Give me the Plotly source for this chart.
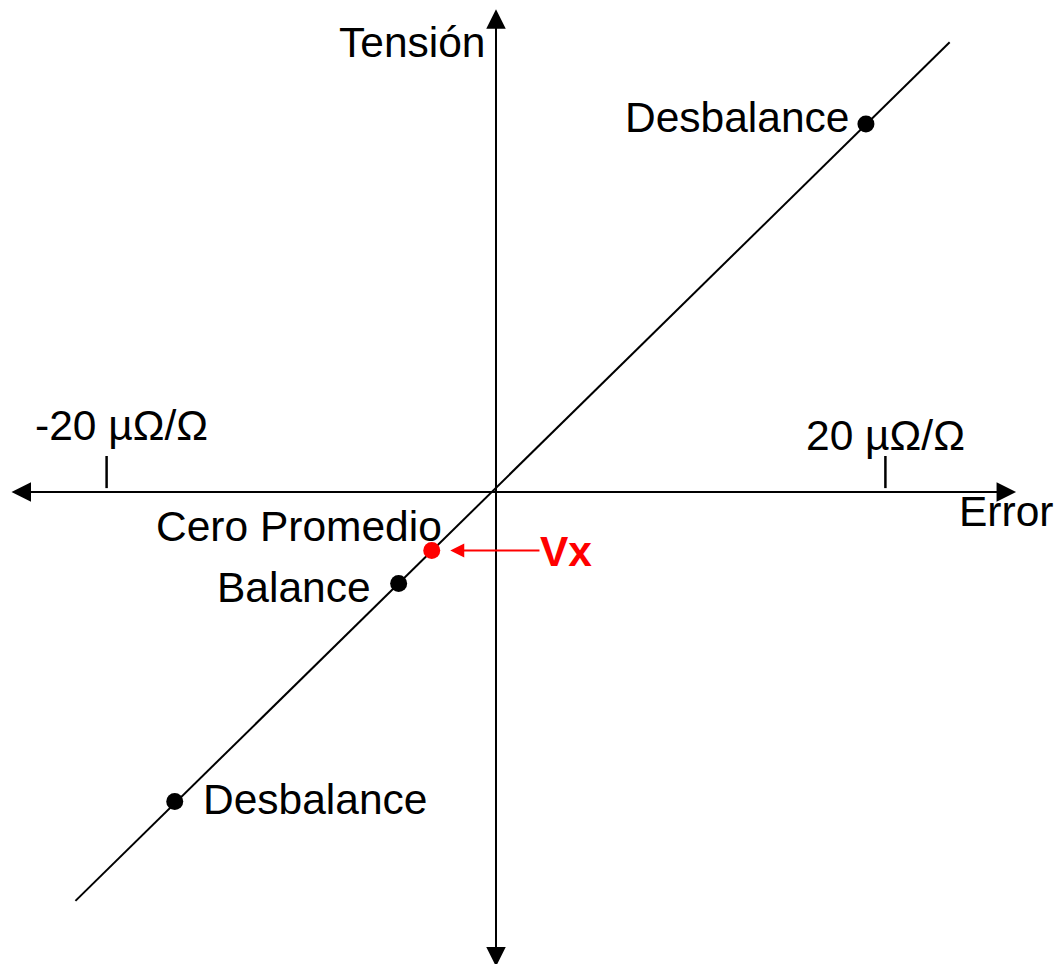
import plotly.graph_objects as go

# Operating points on the error/voltage characteristic
point_names = ["Desbalance", "Cero Promedio", "Balance", "Desbalance"]
point_error = [19.0, -3.3, -5.0, -16.5]      # µΩ/Ω
point_tension = [18.9, -3.0, -4.7, -15.9]    # arbitrary units
point_colors = ["black", "red", "black", "black"]

# Characteristic line end points
line_error = [-21.6, 23.3]
line_tension = [-21.0, 23.1]

# Error axis ticks
tick_values = [-20, 20]
tick_labels = ["-20 µΩ/Ω", "20 µΩ/Ω"]

# Axis extents (arrow tips)
x_axis_ends = [-24.96, 26.71]
y_axis_ends = [-24.45, 24.80]

S = 19.47  # pixels per unit
W, H = 1059, 964
OX, OY = 496, 492
x_range = [-OX / S, (W - OX) / S]
y_range = [-(H - OY) / S, OY / S]

FONT = "Liberation Sans, Arial, sans-serif"
FS = 42.5

fig = go.Figure()

fig.add_trace(go.Scatter(
    x=line_error, y=line_tension, mode="lines",
    line=dict(color="black", width=2), hoverinfo="skip", showlegend=False))

fig.add_trace(go.Scatter(
    x=point_error, y=point_tension, mode="markers",
    marker=dict(color=point_colors, size=[17, 17, 17, 17], opacity=1, line=dict(width=0)),
    opacity=1, showlegend=False))

annotations = []

# Axes drawn as double-headed arrows
annotations.append(dict(
    x=x_axis_ends[1], y=0, ax=x_axis_ends[0], ay=0,
    xref="x", yref="y", axref="x", ayref="y", text="",
    showarrow=True, arrowhead=2, startarrowhead=2, arrowside="end+start",
    arrowsize=1.95, startarrowsize=1.95, arrowwidth=2, arrowcolor="black"))
annotations.append(dict(
    x=0, y=y_axis_ends[1], ax=0, ay=y_axis_ends[0],
    xref="x", yref="y", axref="x", ayref="y", text="",
    showarrow=True, arrowhead=2, startarrowhead=2, arrowside="end+start",
    arrowsize=1.95, startarrowsize=1.95, arrowwidth=2, arrowcolor="black"))

# Vx arrow pointing to the average zero
annotations.append(dict(
    x=point_error[1] + 0.95, y=point_tension[1], ax=2.31, ay=point_tension[1],
    xref="x", yref="y", axref="x", ayref="y", text="",
    showarrow=True, arrowhead=2, arrowsize=1.4, arrowwidth=2, arrowcolor="red"))

shapes = []
for tv in tick_values:
    shapes.append(dict(type="line", xref="x", yref="y", x0=tv, x1=tv, y0=0.2, y1=1.85,
                       line=dict(color="black", width=2.5)))

def label(text, x, y, color="black", bold=False):
    annotations.append(dict(
        x=x, y=y, xref="x", yref="y", text=f"<b>{text}</b>" if bold else text,
        showarrow=False, xanchor="center", yanchor="middle",
        font=dict(family=FONT, size=FS, color=color)))

label("Tensión", -4.31, 23.11)
label("Error", 26.19, -0.98)
label(tick_labels[0], -19.23, 3.44)
label(tick_labels[1], 20.03, 2.88)
label(point_names[0], 12.38, 19.21)
label(point_names[1], -10.12, -1.75)
label(point_names[2], -10.37, -4.88)
label(point_names[3], -9.32, -15.77)
label("Vx", 3.62, -3.08, color="red", bold=True)

fig.update_layout(
    width=W, height=H,
    margin=dict(l=0, r=0, t=0, b=0),
    paper_bgcolor="white", plot_bgcolor="white",
    xaxis=dict(range=x_range, visible=False, fixedrange=True),
    yaxis=dict(range=y_range, visible=False, fixedrange=True),
    annotations=annotations, shapes=shapes,
    showlegend=False,
)

fig.write_html("out.html")
